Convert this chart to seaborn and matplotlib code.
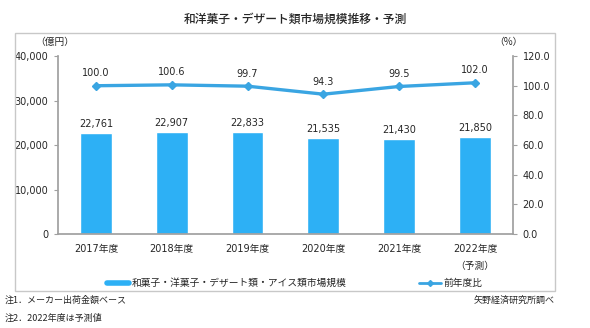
import numpy as np
import pandas as pd
import seaborn as sns
import matplotlib
matplotlib.use("Agg")
import matplotlib.pyplot as plt
from matplotlib.patches import Rectangle
from matplotlib.lines import Line2D

# Market size (100 million yen) and year-on-year ratio (%)
years = ["2017年度", "2018年度", "2019年度", "2020年度", "2021年度", "2022年度\n（予測）"]
market_size = [22761, 22907, 22833, 21535, 21430, 21850]
yoy_ratio = [100.0, 100.6, 99.7, 94.3, 99.5, 102.0]
left_ticks = [0, 10000, 20000, 30000, 40000]
right_ticks = [0.0, 20.0, 40.0, 60.0, 80.0, 100.0, 120.0]

sns.set_theme(style="white")
plt.rcParams["font.family"] = ["DejaVu Sans", "Noto Sans CJK JP"]

BAR_COLOR = "#2DB0F5"
LINE_COLOR = "#3AA5E2"
TEXT = "#262626"
SPINE = "#A0A0A0"
CJK = ["Noto Sans CJK JP", "DejaVu Sans"]

fig = plt.figure(figsize=(5.9, 3.28), dpi=100)
fig.patch.set_facecolor("white")

# outer frame around the chart body
fig.patches.append(Rectangle((0.0254, 0.1128), 0.915, 0.787, transform=fig.transFigure,
                             fill=False, edgecolor="#C8C8C8", linewidth=1.0))

ax = fig.add_axes([0.0983, 0.2866, 0.771, 0.5424])
df = pd.DataFrame({"year": years, "size": market_size})
sns.barplot(data=df, x="year", y="size", color=BAR_COLOR, width=0.42,
            saturation=1, ax=ax, zorder=2)
ax.set_ylim(0, 40000)
ax.set_xlim(-0.5, 5.5)
ax.set_yticks(left_ticks)
ax.set_yticklabels([f"{v:,}" for v in left_ticks])
ax.set_xlabel("")
ax.set_ylabel("")
for bar, v in zip(ax.patches, market_size):
    ax.text(bar.get_x() + bar.get_width() / 2, v + 900, f"{v:,}",
            ha="center", va="bottom", fontsize=7, color=TEXT)

ax2 = ax.twinx()
ax2.plot(np.arange(len(years)), yoy_ratio, color=LINE_COLOR, linewidth=2.4,
         marker="D", markersize=4, zorder=3)
ax2.set_ylim(0, 120)
ax2.set_yticks(right_ticks)
ax2.set_yticklabels([f"{v:.1f}" for v in right_ticks])
for i, v in enumerate(yoy_ratio):
    ax2.text(i, v + 5, f"{v:.1f}", ha="center", va="bottom", fontsize=7, color=TEXT)

for a in (ax, ax2):
    for s in a.spines.values():
        s.set_visible(False)
    a.tick_params(axis="y", labelsize=7, colors=TEXT, length=3, width=0.8, pad=4)
    a.tick_params(axis="y", color=SPINE)
ax.spines["left"].set_visible(True)
ax.spines["left"].set_color(SPINE)
ax.spines["bottom"].set_visible(True)
ax.spines["bottom"].set_color(SPINE)
ax2.spines["right"].set_visible(True)
ax2.spines["right"].set_color(SPINE)

ax.tick_params(axis="x", labelsize=7, colors=TEXT, length=0, pad=7)
for lbl in ax.get_xticklabels():
    lbl.set_family(["DejaVu Sans", "Noto Sans CJK JP"])
    lbl.set_linespacing(1.9)
ax.set_xticks(np.arange(-0.5, 6.0, 1.0), minor=True)
ax.tick_params(axis="x", which="minor", length=3, color=SPINE, width=0.8)

fig.text(0.093, 0.862, "（億円）", fontsize=7, color=TEXT, ha="center", family=CJK)
fig.text(0.862, 0.862, "（%）", fontsize=7, color=TEXT, ha="center", family=CJK)

fig.text(0.5, 0.94, "和洋菓子・デザート類市場規模推移・予測", fontsize=8.5,
         color=TEXT, ha="center", va="center", family=CJK, weight="medium")

handles = [Line2D([0], [0], color=BAR_COLOR, linewidth=4),
           Line2D([0], [0], color=LINE_COLOR, linewidth=2, marker="D", markersize=3)]
labels = ["和菓子・洋菓子・デザート類・アイス類市場規模", "前年度比"]
fig.legend(handles, labels, loc="center", bbox_to_anchor=(0.5, 0.137), ncol=2,
           frameon=False, prop={"family": CJK, "size": 7}, handlelength=2.2,
           handletextpad=0.3, columnspacing=7.5, labelcolor=TEXT)

fig.text(0.008, 0.085, "注1．メーカー出荷金額ベース", fontsize=6.5, color=TEXT,
         va="center", family=CJK)
fig.text(0.008, 0.03, "注2．2022年度は予測値", fontsize=6.5, color=TEXT,
         va="center", family=CJK)
fig.text(0.94, 0.085, "矢野経済研究所調べ", fontsize=6.5, color=TEXT, va="center",
         ha="right", family=CJK)

fig.savefig("out.png", dpi=100, facecolor="white")
